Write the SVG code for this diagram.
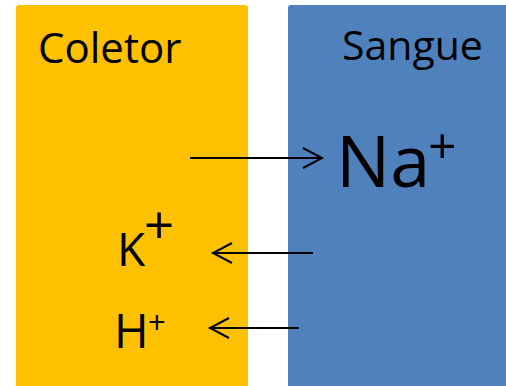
<svg xmlns="http://www.w3.org/2000/svg" width="506" height="386" viewBox="0 0 506 386">
<style>
.lbl{font-family:"Open Sans","Liberation Sans",sans-serif;fill:#000}
.conn{stroke:#000;stroke-width:2;fill:none}
</style>
<defs>
<marker id="arr" markerUnits="userSpaceOnUse" markerWidth="24" markerHeight="24" viewBox="-22 -12 24 24" refX="0" refY="0" orient="auto" overflow="visible">
<path d="M-19,-10 L0,0 L-19,10" fill="none" stroke="#000" stroke-width="2"/>
</marker>
</defs>
<rect width="506" height="386" fill="#fff"/>
<g id="coletor">
<rect x="16" y="5" width="232" height="400" rx="3" fill="#FFC000"/>
<text class="lbl" x="38" y="63" font-size="42">Coletor</text>
</g>
<g id="sangue">
<rect x="288" y="5" width="230" height="400" rx="3" fill="#4F81BD"/>
<text class="lbl" x="342" y="60" font-size="41">Sangue</text>
</g>
<g id="na">
<text class="lbl" x="336" y="187" font-size="72">Na<tspan x="428" y="164" font-size="50">+</tspan></text>
</g>
<g id="k">
<text class="lbl" x="117" y="266" font-size="46">K<tspan x="144" y="244" font-size="53">+</tspan></text>
</g>
<g id="h">
<text class="lbl" x="114" y="348" font-size="47">H<tspan x="148" y="334" font-size="31">+</tspan></text>
</g>
<g id="connectors">
<line class="conn" x1="190" y1="158" x2="322" y2="158" marker-end="url(#arr)"/>
<line class="conn" x1="313" y1="253" x2="213" y2="253" marker-end="url(#arr)"/>
<line class="conn" x1="299" y1="328" x2="210" y2="328" marker-end="url(#arr)"/>
</g>
</svg>
